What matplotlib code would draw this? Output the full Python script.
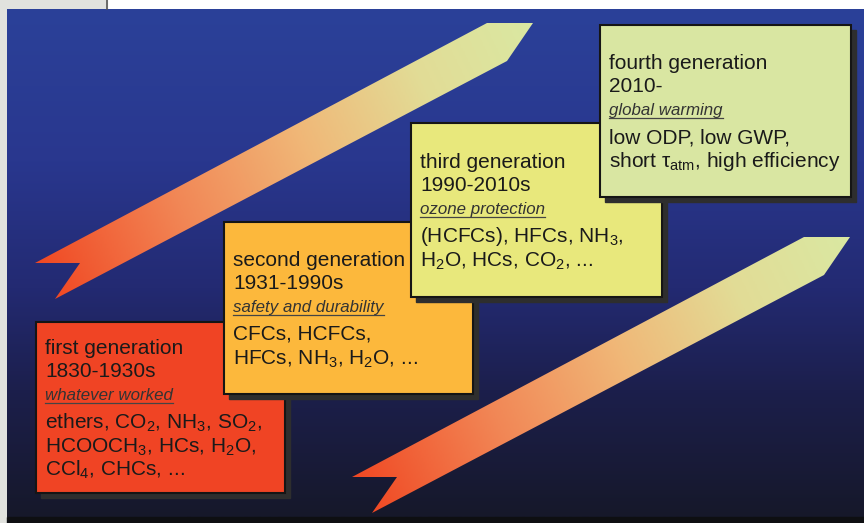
import numpy as np
import matplotlib
matplotlib.use("Agg")
import matplotlib.pyplot as plt
from matplotlib.colors import LinearSegmentedColormap
from matplotlib.patches import Polygon, Rectangle

plt.rcParams["font.family"] = ["Liberation Sans", "DejaVu Sans"]
plt.rcParams["mathtext.fontset"] = "custom"
plt.rcParams["mathtext.rm"] = "Liberation Sans"


def sub(s):
    return "$_\\mathregular{" + s + "}$"


# content
generations = ["first generation", "second generation", "third generation", "fourth generation"]
periods = ["1830-1930s", "1931-1990s", "1990-2010s", "2010-"]
themes = ["whatever worked", "safety and durability", "ozone protection", "global warming"]
refrigerants = [
    [f"ethers, CO{sub('2')}, NH{sub('3')}, SO{sub('2')},",
     f"HCOOCH{sub('3')}, HCs, H{sub('2')}O,",
     f"CCl{sub('4')}, CHCs, ..."],
    ["CFCs, HCFCs,",
     f"HFCs, NH{sub('3')}, H{sub('2')}O, ..."],
    [f"(HCFCs), HFCs, NH{sub('3')},",
     f"H{sub('2')}O, HCs, CO{sub('2')}, ..."],
    ["low ODP, low GWP,",
     f"short \u03c4{sub('atm')}, high efficiency"],
]

# layout (pixel space, y down)
W, H = 864, 523
box_rects = [(36, 322, 285, 493), (224, 222, 473, 394), (411, 123, 662, 297), (600, 25, 851, 197)]
box_colors = ["#f04424", "#fcb83c", "#e8e87c", "#d9e6a2"]
title_baselines = [354, 266, 168, 69]
line_offsets = [0, 23, 46, 74, 98, 121]
text_pad = 9

arrow_shape = np.array([(35, 263), (487, 23), (533, 23), (507, 61), (55, 299), (80, 263)], float)
arrow_shifts = [(0, 0), (317, 214)]

fig = plt.figure(figsize=(W / 100, H / 100), dpi=100)
ax = fig.add_axes([0, 0, 1, 1])
ax.set_xlim(0, W)
ax.set_ylim(H, 0)
ax.axis("off")

# page around the slide
ax.add_patch(Rectangle((0, 0), W, H, color="white", zorder=0))
ax.add_patch(Rectangle((0, 0), 7, H, color="#e1e2de", zorder=1))
ax.add_patch(Rectangle((0, 0), 107, 9, color="#e1e2de", zorder=1))
ax.plot([107, 107], [0, 9], color="#555555", lw=1.2, zorder=2)

# slide background gradient
bg_cmap = LinearSegmentedColormap.from_list(
    "bg", [(0.0, "#2b4199"), (0.3, "#29378e"), (0.55, "#232a72"),
           (0.75, "#1c1f4c"), (1.0, "#16182a")])
grad = np.linspace(0, 1, 256).reshape(-1, 1)
ax.imshow(grad, cmap=bg_cmap, extent=(7, W, 517, 9), aspect="auto", zorder=1)
ax.add_patch(Rectangle((7, 517), W - 7, H - 517, color="#0e0f12", zorder=1))

# gradient arrows
arrow_cmap = LinearSegmentedColormap.from_list(
    "arrow", [(0.0, "#f0421e"), (0.3, "#f28756"), (0.55, "#f0b878"),
              (0.78, "#e2dc96"), (1.0, "#dae8a2")])
for dx, dy in arrow_shifts:
    pts = arrow_shape + (dx, dy)
    poly = Polygon(pts, closed=True, facecolor="none", edgecolor="none", zorder=3)
    ax.add_patch(poly)
    x0, y0 = pts.min(axis=0)
    x1, y1 = pts.max(axis=0)
    xs = np.linspace(x0, x1, 300)
    ys = np.linspace(y0, y1, 200)
    gx, gy = np.meshgrid(xs, ys)
    d = np.array([533 - 35, 23 - 263], float)
    d /= np.linalg.norm(d)
    proj = (gx - x0) * d[0] + (gy - y1) * d[1]
    proj = (proj - proj.min()) / (proj.max() - proj.min())
    im = ax.imshow(proj, cmap=arrow_cmap, extent=(x0, x1, y1, y0), origin="upper",
                   aspect="auto", zorder=3, interpolation="bilinear")
    im.set_clip_path(poly)

# generation boxes
fig.canvas.draw()
renderer = fig.canvas.get_renderer()
for i, (l, t, r, b) in enumerate(box_rects):
    z = 5 + i
    ax.add_patch(Rectangle((l + 5, t + 5), r - l, b - t, color="#2e2e2e", zorder=z))
    ax.add_patch(Rectangle((l, t), r - l, b - t, facecolor=box_colors[i],
                           edgecolor="#151515", lw=1.5, zorder=z))
    tx = l + text_pad
    base = title_baselines[i]
    ax.text(tx, base + line_offsets[0], generations[i], fontsize=15,
            color="#1a1a1a", va="baseline", zorder=z)
    ax.text(tx, base + line_offsets[1], periods[i], fontsize=15,
            color="#1a1a1a", va="baseline", zorder=z)
    th = ax.text(tx, base + line_offsets[2], themes[i], fontsize=12.2, style="italic",
                 color="#333333", va="baseline", zorder=z)
    width = th.get_window_extent(renderer=renderer).width
    ax.plot([tx, tx + width], [base + line_offsets[2] + 3] * 2, color="#444444",
            lw=0.9, zorder=z)
    for j, line in enumerate(refrigerants[i]):
        ax.text(tx, base + line_offsets[3 + j], line, fontsize=15,
                color="#1a1a1a", va="baseline", zorder=z)

fig.savefig("out.png", dpi=100)
